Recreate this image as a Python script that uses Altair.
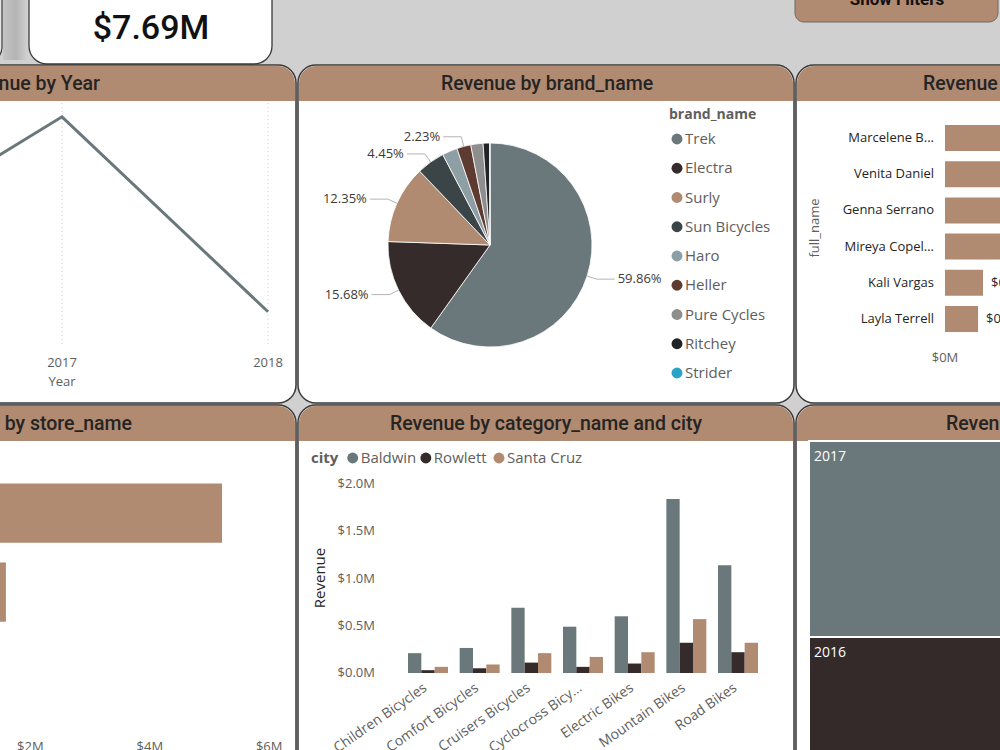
import math
import altair as alt
import pandas as pd

# ------------------------------------------------------------------ data
total_revenue_label = "$7.69M"

years = [2016, 2017, 2018]
year_revenue = [2.39, 3.45, 1.81]          # $M

brands = ["Trek", "Electra", "Surly", "Sun Bicycles", "Haro", "Heller",
          "Pure Cycles", "Ritchey", "Strider"]
brand_share = [59.86, 15.68, 12.35, 4.45, 2.41, 2.23, 1.94, 1.03, 0.05]   # %
brand_colors = ["#6b787b", "#352b2a", "#b08a71", "#3b4446", "#8d9ea4",
                "#5e3b31", "#8e8e8e", "#202427", "#2aa3c6"]
labeled_brands = ["Trek", "Electra", "Surly", "Sun Bicycles", "Heller"]

staff_names = ["Marcelene B...", "Venita Daniel", "Genna Serrano",
               "Mireya Copel...", "Kali Vargas", "Layla Terrell"]
staff_revenue = [2.94, 2.89, 0.95, 0.84, 0.46, 0.40]   # $M
staff_ticks = [0, 1, 2, 3]
staff_tick_labels = ["$0M", "$1M", "$2M", "$3M"]

stores = ["Baldwin Bikes", "Santa Cruz Bikes", "Rowlett Bikes"]
store_revenue = [5.21, 1.59, 0.87]   # $M
store_ticks = [0, 2, 4, 6]
store_tick_labels = ["$0M", "$2M", "$4M", "$6M"]

categories = ["Children Bicycles", "Comfort Bicycles", "Cruisers Bicycles",
              "Cyclocross Bicycles", "Electric Bikes", "Mountain Bikes", "Road Bikes"]
category_tick_labels = ["Children Bicycles", "Comfort Bicycles", "Cruisers Bicycles",
                        "Cyclocross Bicy...", "Electric Bikes", "Mountain Bikes", "Road Bikes"]
cities = ["Baldwin", "Rowlett", "Santa Cruz"]
city_colors = ["#6b787b", "#352b2a", "#b08a71"]
revenue_baldwin = [0.21, 0.265, 0.69, 0.49, 0.60, 1.84, 1.14]
revenue_rowlett = [0.03, 0.05, 0.11, 0.065, 0.10, 0.32, 0.22]
revenue_santa_cruz = [0.065, 0.09, 0.21, 0.17, 0.22, 0.57, 0.32]
revenue_ticks = [0.0, 0.5, 1.0, 1.5, 2.0]
revenue_tick_labels = ["$0.0M", "$0.5M", "$1.0M", "$1.5M", "$2.0M"]

treemap_years = [2017, 2016]

# ------------------------------------------------------------------ style
BG = "#d0d0d0"
TAN = "#b08a71"
SLATE = "#6b787b"
BORDER = "#3a3a3a"
TXT = "#605e5c"
DARK = "#252423"
LABEL_FONT = "Open Sans"
TITLE_FONT = "Roboto"

ONE = pd.DataFrame({"k": [0]})


def box(x0, x1, y0, y1, **mark):
    return alt.Chart(ONE).mark_rect(**mark).encode(
        x=alt.value(x0), x2=alt.value(x1), y=alt.value(y0), y2=alt.value(y1))


def label(text, x, y, **mark):
    props = dict(font=LABEL_FONT, fontSize=13, color=TXT)
    props.update(mark)
    return alt.Chart(ONE).mark_text(text=text, **props).encode(
        x=alt.value(x), y=alt.value(y))


def title(text, x, y, align):
    return label(text, x, y, font=TITLE_FONT, fontSize=19.5, fontWeight=500,
                 color=DARK, align=align, baseline="middle")


def panel(x0, x1, y0, y1, head_bottom):
    body = box(x0, x1, y0, y1, fill="white", stroke=BORDER, strokeWidth=1.5,
               cornerRadius=18)
    head = box(x0 + 1, x1 - 1, y0 + 1, head_bottom, fill=TAN,
               cornerRadiusTopLeft=17, cornerRadiusTopRight=17)
    return [body, head]


layers = []

# ------------------------------------------------------------ top strip
layers.append(box(-200, 2, -30, 63, fill="#e6e6e6", stroke=BORDER, strokeWidth=1.2,
                  cornerRadius=16))
layers.append(box(3, 29, -30, 60, fill=alt.Gradient(
    gradient="linear", x1=0, x2=1, y1=0, y2=0,
    stops=[alt.GradientStop(color="#c4c4c4", offset=0),
           alt.GradientStop(color="#b4b4b4", offset=0.5),
           alt.GradientStop(color="#d4d4d4", offset=1)])))
layers.append(box(29, 272, -30, 64, fill="white", stroke=BORDER, strokeWidth=1.3,
                  cornerRadius=18))
layers.append(label(total_revenue_label, 151, 29, font=TITLE_FONT, fontSize=34,
                    fontWeight=500, color="#111111", align="center", baseline="middle"))
layers.append(box(795, 998, -30, 22, fill=TAN, stroke="#6a6a6a", strokeWidth=1,
                  cornerRadius=9))
layers.append(label("Show Filters", 897, 5, font=TITLE_FONT, fontSize=17,
                    fontWeight="bold", color="#111111", align="center",
                    baseline="alphabetic"))

# ------------------------------------------------------------ panels
layers += panel(-300, 296, 65, 403, 101)
layers += panel(298, 794, 65, 403, 101)
layers += panel(796, 1300, 65, 403, 101)
layers += panel(-300, 296, 405, 900, 441)
layers += panel(298, 794, 405, 900, 441)
layers += panel(796, 1300, 405, 900, 441)

layers.append(title("Revenue by Year", 100, 84, "right"))
layers.append(title("Revenue by brand_name", 547, 84, "center"))
layers.append(title("Revenue by full_name", 923, 84, "left"))
layers.append(title("Revenue by store_name", 132, 424, "right"))
layers.append(title("Revenue by category_name and city", 546, 424, "center"))
layers.append(title("Revenue by Year", 946, 424, "left"))

# ------------------------------------------------------------ line chart
line_df = pd.DataFrame({"year": years, "rev": year_revenue,
                        "ylabel": [str(y) for y in years]})
line_x = alt.Scale(domain=[2016, 2018], range=[-144, 268])
line_y = alt.Scale(domain=[1.5, 3.5], range=[348.6, 110.9], nice=False, zero=False)
line_grid = alt.Chart(line_df).mark_rule(color="#cfcfcf", strokeDash=[1, 3]).encode(
    x=alt.X("year:Q", scale=line_x, axis=None), y=alt.value(103), y2=alt.value(345))
line_mark = alt.Chart(line_df).mark_line(color=SLATE, strokeWidth=3).encode(
    x=alt.X("year:Q", scale=line_x, axis=None), y=alt.Y("rev:Q", scale=line_y, axis=None))
line_ticks = alt.Chart(line_df).mark_text(font=LABEL_FONT, fontSize=13, color=TXT,
                                          baseline="middle").encode(
    x=alt.X("year:Q", scale=line_x, axis=None), y=alt.value(363), text="ylabel:N")
layers.append(alt.layer(line_grid, line_mark, line_ticks))
layers.append(label("Year", 62, 382, align="center", baseline="middle"))

# ------------------------------------------------------------ pie
pie_df = pd.DataFrame({"brand": brands, "share": brand_share,
                       "order": list(range(len(brands)))})
brand_scale = alt.Scale(domain=brands, range=brand_colors)
pie = alt.Chart(pie_df).mark_arc(radius=102, stroke="white", strokeWidth=0.8).encode(
    theta=alt.Theta("share:Q", stack=True),
    color=alt.Color("brand:N", scale=brand_scale, legend=None),
    order=alt.Order("order:Q"),
    x=alt.value(490), y=alt.value(245))
layers.append(pie)

cx, cy, R = 490, 245, 102
cum = 0.0
lead_rows, text_rows = [], []
for b, s in zip(brands, brand_share):
    mid = (cum + s / 2) / 100 * 2 * math.pi
    cum += s
    if b not in labeled_brands:
        continue
    sx, sy = math.sin(mid), -math.cos(mid)
    p0 = (cx + R * sx, cy + R * sy)
    p1 = (cx + (R + 10) * sx, cy + (R + 10) * sy)
    side = 1 if sx >= 0 else -1
    p2 = (p1[0] + 18 * side, p1[1])
    for i, p in enumerate([p0, p1, p2]):
        lead_rows.append({"seg": b, "i": i, "px": p[0], "py": p[1]})
    text_rows.append({"txt": f"{s:.2f}%", "tx": p2[0] + 3 * side, "ty": p2[1],
                      "side": "R" if side > 0 else "L"})
lead_df = pd.DataFrame(lead_rows)
text_df = pd.DataFrame(text_rows)
layers.append(alt.Chart(lead_df).mark_line(color="#b4b4b4", strokeWidth=1).encode(
    x=alt.X("px:Q", scale=None), y=alt.Y("py:Q", scale=None),
    detail="seg:N", order="i:Q"))
for side, al in [("R", "left"), ("L", "right")]:
    layers.append(alt.Chart(text_df[text_df.side == side]).mark_text(
        font=LABEL_FONT, fontSize=13, color="#3b3a39", align=al, baseline="middle").encode(
        x=alt.X("tx:Q", scale=None), y=alt.Y("ty:Q", scale=None), text="txt:N"))

# pie legend
leg_y = alt.Scale(domain=brands, range=[139, 373], padding=0)
leg_df = pd.DataFrame({"brand": brands})
leg_dots = alt.Chart(leg_df).mark_point(filled=True, size=120, opacity=1).encode(
    x=alt.value(677), y=alt.Y("brand:N", scale=leg_y, axis=None),
    color=alt.Color("brand:N", scale=brand_scale, legend=None))
leg_text = alt.Chart(leg_df).mark_text(font=LABEL_FONT, fontSize=15, color=TXT,
                                       align="left", baseline="middle").encode(
    x=alt.value(685), y=alt.Y("brand:N", scale=leg_y, axis=None), text="brand:N")
layers.append(alt.layer(leg_dots, leg_text))
layers.append(label("brand_name", 669, 115, fontSize=14, fontWeight="bold",
                    align="left", baseline="middle"))

# ------------------------------------------------------------ staff bars
staff_df = pd.DataFrame({"name": staff_names, "rev": staff_revenue,
                         "vlabel": [f"${v:.2f}M" for v in staff_revenue]})
staff_y = alt.Scale(domain=staff_names, range=[120, 337], paddingInner=0.28,
                    paddingOuter=0.14)
staff_x = alt.Scale(domain=[0, 3], range=[945, 945 + 3 * 82.6], nice=False)
staff_bars = alt.Chart(staff_df).mark_bar(color=TAN).encode(
    y=alt.Y("name:N", scale=staff_y, axis=None), x=alt.X("rev:Q", scale=staff_x, axis=None))
staff_names_t = alt.Chart(staff_df).mark_text(font=LABEL_FONT, fontSize=13, color=DARK,
                                              align="right", baseline="middle").encode(
    y=alt.Y("name:N", scale=staff_y, axis=None), x=alt.value(934), text="name:N")
staff_vals = alt.Chart(staff_df).mark_text(font=LABEL_FONT, fontSize=13, color=DARK,
                                           align="left", baseline="middle", dx=8).encode(
    y=alt.Y("name:N", scale=staff_y, axis=None), x=alt.X("rev:Q", scale=staff_x, axis=None),
    text="vlabel:N")
staff_tick_df = pd.DataFrame({"v": staff_ticks, "t": staff_tick_labels})
staff_tick_t = alt.Chart(staff_tick_df).mark_text(font=LABEL_FONT, fontSize=13, color=TXT,
                                                  align="center", baseline="middle").encode(
    x=alt.X("v:Q", scale=staff_x, axis=None), y=alt.value(358), text="t:N")
layers.append(alt.layer(staff_bars, staff_names_t, staff_vals, staff_tick_t))
layers.append(label("full_name", 815, 228, angle=270, align="center", baseline="middle"))

# ------------------------------------------------------------ store bars
store_df = pd.DataFrame({"store": stores, "rev": store_revenue})
store_y = alt.Scale(domain=stores, range=[473.5, 710.5], paddingInner=0.25,
                    paddingOuter=0.125)
store_x = alt.Scale(domain=[0, 6], range=[-89, -89 + 6 * 59.7], nice=False)
store_bars = alt.Chart(store_df).mark_bar(color=TAN).encode(
    y=alt.Y("store:N", scale=store_y, axis=None), x=alt.X("rev:Q", scale=store_x, axis=None))
store_tick_df = pd.DataFrame({"v": store_ticks, "t": store_tick_labels})
store_tick_t = alt.Chart(store_tick_df).mark_text(font=LABEL_FONT, fontSize=13, color=TXT,
                                                  align="center", baseline="middle").encode(
    x=alt.X("v:Q", scale=store_x, axis=None), y=alt.value(747), text="t:N")
layers.append(alt.layer(store_bars, store_tick_t))

# ------------------------------------------------------------ grouped bars
cat_rows = []
for c, a, b, d in zip(categories, revenue_baldwin, revenue_rowlett, revenue_santa_cruz):
    for city, v in zip(cities, [a, b, d]):
        cat_rows.append({"category": c, "city": city, "rev": v})
cat_df = pd.DataFrame(cat_rows)
cat_x = alt.Scale(domain=categories, range=[408, 758], paddingInner=0.226, paddingOuter=0)
cat_y = alt.Scale(domain=[0, 2], range=[673, 484], nice=False)
city_scale = alt.Scale(domain=cities, range=city_colors)
cat_bars = alt.Chart(cat_df).mark_bar().encode(
    x=alt.X("category:N", scale=cat_x, axis=None),
    xOffset=alt.XOffset("city:N", scale=alt.Scale(domain=cities, paddingInner=0,
                                                   paddingOuter=0)),
    y=alt.Y("rev:Q", scale=cat_y, axis=None),
    color=alt.Color("city:N", scale=city_scale, legend=None))
cat_lab_df = pd.DataFrame({"category": categories, "t": category_tick_labels})
cat_labels = alt.Chart(cat_lab_df).mark_text(font=LABEL_FONT, fontSize=14, color=TXT,
                                             angle=325, align="right", baseline="middle",
                                             dx=-3).encode(
    x=alt.X("category:N", scale=cat_x, axis=None), y=alt.value(685), text="t:N")
rev_tick_df = pd.DataFrame({"v": revenue_ticks, "t": revenue_tick_labels})
rev_ticks = alt.Chart(rev_tick_df).mark_text(font=LABEL_FONT, fontSize=13, color=TXT,
                                             align="right", baseline="middle").encode(
    y=alt.Y("v:Q", scale=cat_y, axis=None), x=alt.value(375), text="t:N")
layers.append(alt.layer(cat_bars, cat_labels, rev_ticks))
layers.append(label("Revenue", 320, 578, fontSize=15, color=DARK, angle=270,
                    align="center", baseline="middle"))

city_x = alt.Scale(domain=cities, range=[352.7, 499], padding=0)
city_df = pd.DataFrame({"city": cities})
city_dots = alt.Chart(city_df).mark_point(filled=True, size=120, opacity=1).encode(
    x=alt.X("city:N", scale=city_x, axis=None), y=alt.value(458),
    color=alt.Color("city:N", scale=city_scale, legend=None))
city_text = alt.Chart(city_df).mark_text(font=LABEL_FONT, fontSize=15, color=TXT,
                                         align="left", baseline="middle", dx=8).encode(
    x=alt.X("city:N", scale=city_x, axis=None), y=alt.value(458), text="city:N")
layers.append(alt.layer(city_dots, city_text))
layers.append(label("city", 311, 458, fontSize=15, fontWeight="bold",
                    align="left", baseline="middle"))

# ------------------------------------------------------------ treemap column
rev_of = dict(zip(years, year_revenue))
tm_vals = [rev_of[y] for y in treemap_years]
tm_start, acc = [], 0.0
for v in tm_vals:
    tm_start.append(acc)
    acc += v
tm_df = pd.DataFrame({"year": [str(y) for y in treemap_years], "start": tm_start,
                      "end": [s + v for s, v in zip(tm_start, tm_vals)]})
tm_y = alt.Scale(domain=[0, acc], range=[441, 441 + acc * 56.8], nice=False)
tm_color = alt.Scale(domain=["2017", "2016"], range=[SLATE, "#342a29"])
tm_cells = alt.Chart(tm_df).mark_rect(stroke="white", strokeWidth=2).encode(
    x=alt.value(809), x2=alt.value(1010),
    y=alt.Y("start:Q", scale=tm_y, axis=None), y2="end:Q",
    color=alt.Color("year:N", scale=tm_color, legend=None))
tm_text = alt.Chart(tm_df).mark_text(font=LABEL_FONT, fontSize=14, color="white",
                                     align="left", baseline="middle", dy=16).encode(
    x=alt.value(814), y=alt.Y("start:Q", scale=tm_y, axis=None), text="year:N")
layers.append(alt.layer(tm_cells, tm_text))

# ------------------------------------------------------------ assemble
chart = alt.layer(*layers).resolve_scale(
    x="independent", y="independent", color="independent",
    theta="independent", xOffset="independent"
).properties(
    width=1000, height=750, background=BG, padding=0, autosize="none"
).configure_view(stroke=None)

chart.save("out.html", embed_options={"renderer": "svg", "actions": False})
